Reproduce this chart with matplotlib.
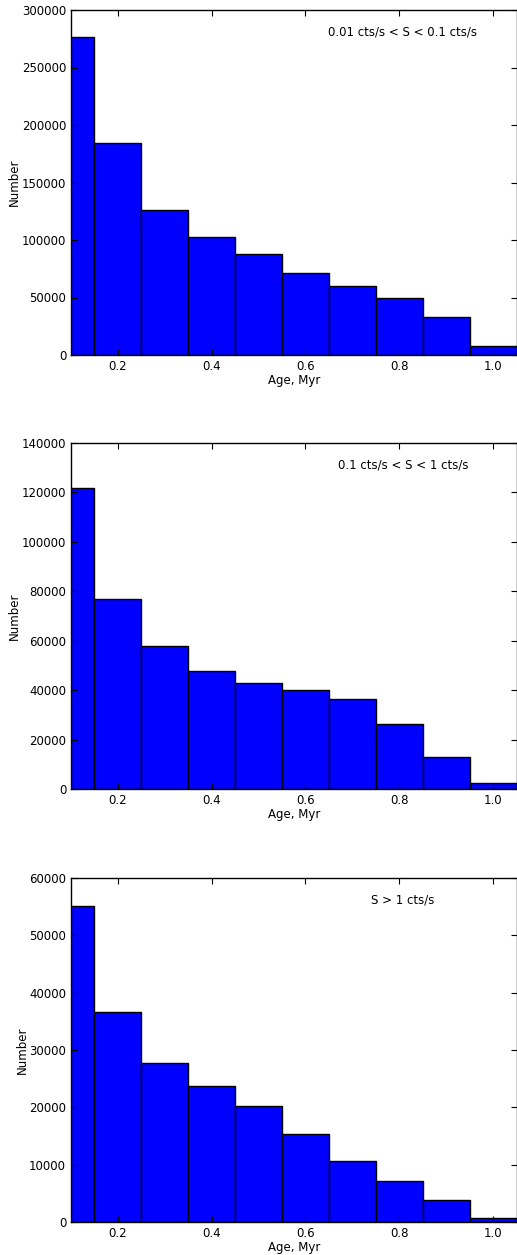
import matplotlib
matplotlib.use('Agg')
import matplotlib.pyplot as plt
import numpy as np

# bin centres (Myr) and counts per flux range
age = [0.1, 0.2, 0.3, 0.4, 0.5, 0.6, 0.7, 0.8, 0.9, 1.0]
faint = [276800, 184400, 126000, 103000, 87400, 71700, 59700, 49300, 32800, 7600]
mid = [121600, 77000, 57900, 47900, 43000, 40150, 36300, 26500, 12800, 2500]
bright = [55100, 36700, 27800, 23700, 20300, 15300, 10700, 7200, 3800, 650]

labels = ['0.01 cts/s < S < 0.1 cts/s', '0.1 cts/s < S < 1 cts/s', 'S > 1 cts/s']
ymax = [300000, 140000, 60000]
ystep = [50000, 20000, 10000]

plt.rcParams['font.family'] = 'DejaVu Sans'
plt.rcParams['font.size'] = 8.5
plt.rcParams['xtick.direction'] = 'in'
plt.rcParams['ytick.direction'] = 'in'
plt.rcParams['xtick.top'] = True
plt.rcParams['ytick.right'] = True
plt.rcParams['xtick.major.size'] = 4
plt.rcParams['ytick.major.size'] = 4

fig = plt.figure(figsize=(5.17, 12.55), dpi=100)
W, H = 517.0, 1255.0
left = 71 / W
width = (516.5 - 71) / W
# (top, bottom) of each panel in pixels
boxes = [(10, 355), (443, 789), (878, 1222)]

for (top, bot), counts, lab, ym, st in zip(boxes, [faint, mid, bright], labels, ymax, ystep):
    ax = fig.add_axes([left, 1 - bot / H, width, (bot - top) / H])
    ax.bar(age, counts, width=0.1, color='blue', edgecolor='black', linewidth=1)
    ax.set_xlim(0.1, 1.05)
    ax.set_ylim(0, ym)
    ax.set_xticks([0.2, 0.4, 0.6, 0.8, 1.0])
    ax.set_yticks(np.arange(0, ym + 1, st))
    ax.set_xlabel('Age, Myr', labelpad=1)
    ax.set_ylabel('Number', labelpad=0.5)
    ax.text(0.745, 0.935, lab, transform=ax.transAxes, ha='center', va='center')
    for s in ax.spines.values():
        s.set_linewidth(1)

fig.savefig('out.png', dpi=100, facecolor='white')
